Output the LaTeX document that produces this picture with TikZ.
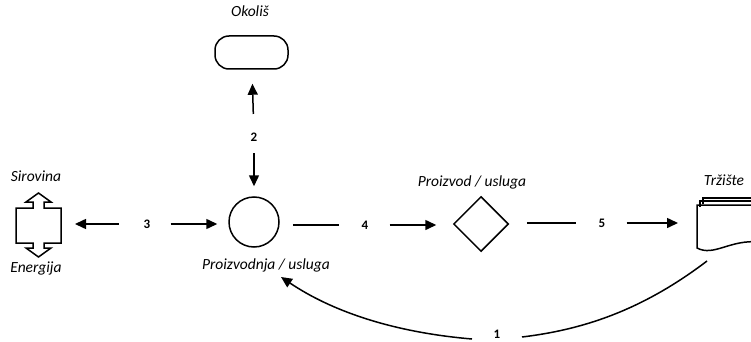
\documentclass[tikz,border=0pt]{standalone}
\usepackage{fontspec}
\setmainfont{Carlito}
\usepackage{tikz}
\usetikzlibrary{arrows.meta,shapes.geometric}
\definecolor{FlowInk}{HTML}{000000}

\begin{document}
\begin{tikzpicture}[x=1pt,y=-1pt,line width=1.5pt,FlowInk,
    >={Triangle[length=11pt,width=10pt]},
    lbl/.style={font=\fontsize{15.5}{17}\selectfont\itshape,inner sep=0pt},
    num/.style={font=\fontsize{13}{15}\selectfont\bfseries,inner sep=3pt}]
      \clip (0,0) rectangle (751,342);
      % stations
      \node[draw,rounded corners=14pt,minimum width=73pt,minimum height=33pt] (okolis) at (251.5,52.5) {};
      \node[draw,circle,minimum size=50pt,inner sep=0pt] (proizv) at (254,222) {};
      \node[draw,diamond,minimum size=55pt,inner sep=0pt] (proizvod) at (481,224) {};
      \coordinate (sirovina) at (38.5,223);
      \draw (sirovina) ++(0,-30) -- ++(12.5,9) -- ++(-7,0) -- ++(0,6) -- ++(17,0) -- ++(0,35)
        -- ++(-17,0) -- ++(0,5) -- ++(7,0) -- ++(-12.5,9) -- ++(-12.5,-9) -- ++(7,0) -- ++(0,-5)
        -- ++(-17,0) -- ++(0,-35) -- ++(17,0) -- ++(0,-6) -- ++(-7,0) -- cycle;
      \coordinate (trziste) at (697,205);
      \draw (703,204) -- (703,198) -- (760,198);
      \draw (700,207) -- (700,201) -- (760,201);
      \draw (trziste) -- (697,248) .. controls (714,257) and (730,239) .. (760,242) -- (760,205) -- cycle;
      % texts
      \node[lbl] (okolistxt) at (250,11) {Okoliš};
      \node[lbl] (sirtxt) at (36,176) {Sirovina};
      \node[lbl] (enetxt) at (36,268) {Energija};
      \node[lbl] (prodtxt) at (266,265) {Proizvodnja / usluga};
      \node[lbl] (proizvodtxt) at (472,182) {Proizvod / usluga};
      \node[lbl] (trzistetxt) at (724,180) {Tržište};
      % flows
      \node[num] (n2) at (254,137) {2};
      \node[num] (n3) at (147,224) {3};
      \node[num] (n4) at (365,225) {4};
      \node[num] (n5) at (602,223) {5};
      \node[num] (n1) at (497,334) {1};
      \draw[->,shorten <=15pt,shorten >=14pt] (n2) -- (okolis);
      \draw[->,shorten <=8pt,shorten >=10pt] (n2) -- (proizv);
      \draw[->,shorten <=21pt,shorten >=36.5pt] (n3.west) -- (n3.west -| sirovina);
      \draw[->,shorten <=16.5pt,shorten >=11pt] (n3.east) -- (n3.east -| proizv.west);
      \draw[shorten <=13pt,shorten >=18.5pt] (n4.west -| proizv.east) -- (n4.west);
      \draw[->,shorten <=17.5pt,shorten >=16.5pt] (n4.east) -- (n4.east -| proizvod.west);
      \draw[shorten <=17.5pt,shorten >=18.5pt] (n5.west -| proizvod.east) -- (n5.west);
      \draw[->,shorten <=17.5pt,shorten >=19pt] (n5.east) -- (n5.east -| trziste);
      \coordinate (povrat) at (707,261);
      \coordinate (ulaz) at (281,277);
      \draw (povrat) .. controls (640,312) and (580,330) .. (522,337);
      \draw[->] (472,339) .. controls (390,332) and (330,310) .. (ulaz);
    \end{tikzpicture}
\end{document}
